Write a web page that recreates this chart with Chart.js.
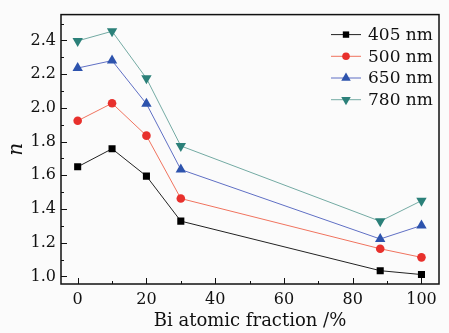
<!DOCTYPE html>
<html>
<head>
<meta charset="utf-8">
<script src="https://cdn.jsdelivr.net/npm/chart.js@4/dist/chart.umd.min.js"></script>
<style>
  html, body { margin: 0; padding: 0; background: #fbfbfb; }
  #wrap { width: 449px; height: 333px; position: relative; }
</style>
</head>
<body>
<div id="wrap"><canvas id="graphCanvas"></canvas></div>
<script>
// Bi atomic fraction (%) and refractive index n
var fraction = [0, 10, 20, 30, 88, 100];
var labels = ['405 nm', '500 nm', '650 nm', '780 nm'];
var n405 = [1.65, 1.757, 1.595, 1.328, 1.034, 1.011];
var n500 = [1.923, 2.027, 1.835, 1.462, 1.164, 1.113];
var n650 = [2.236, 2.28, 2.024, 1.634, 1.222, 1.302];
var n780 = [2.397, 2.454, 2.175, 1.774, 1.327, 1.449];
var xTicks = [0, 20, 40, 60, 80, 100];
var yTicks = [1.0, 1.2, 1.4, 1.6, 1.8, 2.0, 2.2, 2.4];

var serif = "'DejaVu Serif', serif";

function pts(ys) {
    var out = [];
    for (var i = 0; i < fraction.length; i++) {
        out.push({ x: fraction[i], y: ys[i] });
    }
    return out;
}

function makeSet(label, ys, line, mark, style, radius, rot) {
    return {
        label: label,
        data: pts(ys),
        borderColor: line,
        borderWidth: 1,
        backgroundColor: mark,
        pointBackgroundColor: mark,
        pointBorderColor: mark,
        pointBorderWidth: 0,
        pointStyle: style,
        pointRadius: radius,
        pointRotation: rot,
        tension: 0
    };
}

// draws a marker by hand (legend)
function marker(ctx, style, r, rot, x, y) {
    ctx.beginPath();
    if (style === 'rect') {
        var s = r * Math.SQRT1_2;
        ctx.rect(x - s, y - s, 2 * s, 2 * s);
    } else if (style === 'circle') {
        ctx.arc(x, y, r, 0, Math.PI * 2);
    } else {
        var d = rot === 180 ? -1 : 1;
        var t = Math.PI / 6;
        ctx.moveTo(x, y - d * r);
        ctx.lineTo(x + r * Math.cos(t), y + d * r * Math.sin(t));
        ctx.lineTo(x - r * Math.cos(t), y + d * r * Math.sin(t));
        ctx.closePath();
    }
    ctx.fill();
}

// inward ticks, plot frame and legend inside the plot
var framePlugin = {
    id: 'frame',
    afterDraw: function (chart) {
        var ctx = chart.ctx;
        var a = chart.chartArea;
        var xs = chart.scales.x, ys = chart.scales.y;
        ctx.save();
        ctx.strokeStyle = '#111';
        ctx.lineWidth = 1;
        ctx.beginPath();
        for (var v = 1.0; v <= 2.501; v += 0.1) {
            var py = Math.round(ys.getPixelForValue(v)) + 0.5;
            var major = Math.abs(Math.round(v * 10) % 2) === 0;
            ctx.moveTo(a.left, py);
            ctx.lineTo(a.left + (major ? 6 : 3), py);
        }
        for (var x = 0; x <= 100; x += 10) {
            var px = Math.round(xs.getPixelForValue(x)) + 0.5;
            ctx.moveTo(px, a.bottom);
            ctx.lineTo(px, a.bottom - (x % 20 === 0 ? 6 : 3));
        }
        ctx.stroke();
        ctx.lineWidth = 1.5;
        ctx.strokeRect(a.left, a.top, a.right - a.left, a.bottom - a.top);

        // legend
        var lx = a.right - 108, ly = a.top + 20, step = 21.7;
        ctx.font = '17px ' + serif;
        ctx.textBaseline = 'middle';
        ctx.textAlign = 'left';
        chart.data.datasets.forEach(function (ds, i) {
            var y = ly + i * step;
            ctx.strokeStyle = ds.borderColor;
            ctx.lineWidth = 1;
            ctx.beginPath();
            ctx.moveTo(lx, y);
            ctx.lineTo(lx + 30, y);
            ctx.stroke();
            ctx.fillStyle = ds.pointBackgroundColor;
            marker(ctx, ds.pointStyle, ds.pointRadius - 0.5, ds.pointRotation, lx + 15, y);
            ctx.fillStyle = '#111';
            ctx.fillText(ds.label, lx + 37, y + 1);
        });
        ctx.restore();
    }
};

var chartdata = {
    datasets: [
        makeSet(labels[0], n405, '#222', '#000', 'rect', 5, 0),
        makeSet(labels[1], n500, '#f0735e', '#e8302c', 'circle', 4.3, 0),
        makeSet(labels[2], n650, '#5f6fc4', '#2d53ad', 'triangle', 6, 0),
        makeSet(labels[3], n780, '#73aaa3', '#2b8079', 'triangle', 6, 180)
    ]
};

var graphTarget = document.getElementById('graphCanvas');
var lineGraph = new Chart(graphTarget, {
    type: 'line',
    data: chartdata,
    plugins: [framePlugin],
    options: {
        responsive: true,
        maintainAspectRatio: false,
        animation: false,
        devicePixelRatio: 1,
        layout: { padding: { top: 5, right: 10, left: 0, bottom: 0 } },
        plugins: {
            legend: { display: false },
            tooltip: { enabled: false }
        },
        scales: {
            x: {
                type: 'linear',
                min: -4.85,
                max: 105.1,
                afterBuildTicks: function (s) {
                    s.ticks = xTicks.map(function (v) { return { value: v }; });
                },
                afterFit: function (s) { s.height = 49; },
                grid: { display: false, drawTicks: false },
                border: { display: false },
                ticks: {
                    padding: 6,
                    color: '#111',
                    font: { family: serif, size: 16 },
                    callback: function (v) { return String(v); }
                },
                title: {
                    display: true,
                    text: 'Bi atomic fraction /%',
                    color: '#111',
                    padding: { top: 0, bottom: 1 },
                    font: { family: serif, size: 18 }
                }
            },
            y: {
                min: 0.955,
                max: 2.553,
                afterBuildTicks: function (s) {
                    s.ticks = yTicks.map(function (v) { return { value: v }; });
                },
                afterFit: function (s) { s.width = 61; },
                grid: { display: false, drawTicks: false },
                border: { display: false },
                ticks: {
                    padding: 5,
                    color: '#111',
                    font: { family: serif, size: 16 },
                    callback: function (v) { return Number(v).toFixed(1); }
                },
                title: {
                    display: true,
                    text: 'n',
                    color: '#111',
                    padding: { top: 5, bottom: 4 },
                    font: { family: serif, size: 20, style: 'italic' }
                }
            }
        }
    }
});
</script>
</body>
</html>
